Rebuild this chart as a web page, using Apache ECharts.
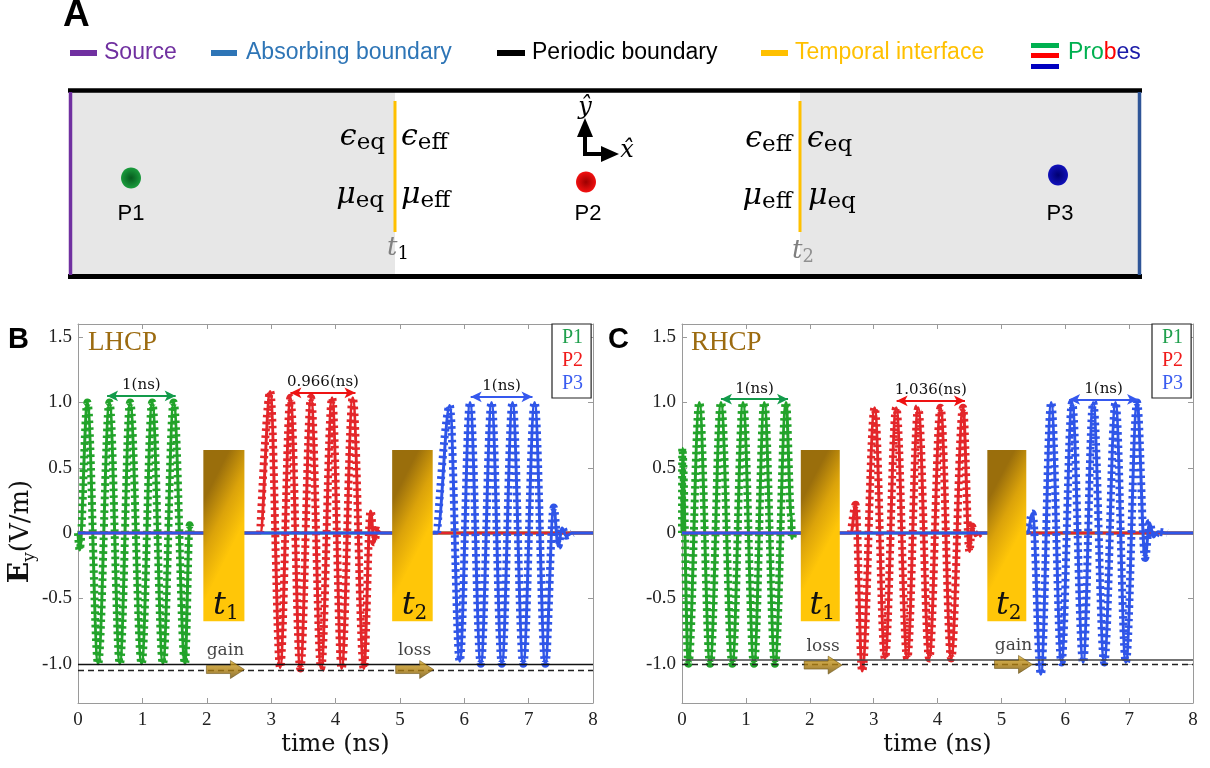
<!DOCTYPE html>
<html><head><meta charset="utf-8">
<script src="https://cdn.jsdelivr.net/npm/echarts@6/dist/echarts.min.js"></script>
<style>html,body{margin:0;padding:0;background:#fff}#c{width:1210px;height:768px}</style>
</head><body><div id="c"></div>
<script>
// ---------- data ----------
const timeTicks = [0, 1, 2, 3, 4, 5, 6, 7, 8];
const fieldTicks = [-1.0, -0.5, 0, 0.5, 1.0, 1.5];
const probeNames = ['P1', 'P2', 'P3'];

// LHCP (panel B) probe signals [time ns, Ey V/m]
const lhcpP1 = [[0,0],[0.025,-0.13],[0.146,1.0],[0.312,-1.0],[0.489,1.0],[0.65,-1.0],[0.81,1.0],[0.988,-1.0],[1.153,1.0],[1.319,-1.0],[1.486,1.0],[1.662,-1.0],[1.735,0.06],[1.75,0]];
const lhcpP2 = [[2.83,0],[2.986,1.084],[3.14,-1.03],[3.30,1.036],[3.453,-1.036],[3.62,1.036],[3.776,-1.036],[3.947,1.036],[4.095,-1.036],[4.268,1.036],[4.44,-1.036],[4.545,0.17],[4.6,-0.07],[4.65,0.02],[4.72,0]];
const lhcpP3 = [[5.58,0],[5.774,0.977],[5.93,-0.98],[6.09,1.0],[6.257,-1.0],[6.424,1.0],[6.584,-1.0],[6.75,1.0],[6.916,-1.0],[7.093,1.0],[7.259,-1.0],[7.39,0.196],[7.46,-0.1],[7.52,0.04],[7.58,-0.02],[7.68,0]];
// RHCP (panel C)
const rhcpP1 = [[0,0],[0.004,0.65],[0.1,-1.0],[0.271,1.0],[0.44,-1.0],[0.61,1.0],[0.788,-1.0],[0.955,1.0],[1.127,-1.0],[1.288,1.0],[1.455,-1.0],[1.628,1.0],[1.71,0.13],[1.72,-0.04],[1.74,0]];
const rhcpP2 = [[2.645,0],[2.718,0.216],[2.82,-1.056],[3.016,0.96],[3.177,-0.96],[3.354,0.96],[3.526,-0.96],[3.698,0.96],[3.87,-0.96],[4.048,0.96],[4.214,-0.96],[4.40,0.96],[4.50,-0.14],[4.54,0.05],[4.59,-0.02],[4.66,0]];
const rhcpP3 = [[5.405,0],[5.488,0.15],[5.618,-1.08],[5.78,1.0],[5.94,-0.99],[6.107,1.0],[6.28,-0.99],[6.437,1.0],[6.61,-0.99],[6.787,1.0],[6.948,-0.99],[7.125,1.0],[7.25,-0.19],[7.32,0.08],[7.38,-0.03],[7.45,0.01],[7.6,0]];

// period annotations [t start, t end, level, text]
const lhcpSpans = [[0.452,1.517,1.05,'1(ns)'],[3.30,4.31,1.073,'0.966(ns)'],[6.10,7.06,1.043,'1(ns)']];
const rhcpSpans = [[0.61,1.66,1.025,'1(ns)'],[3.36,4.43,1.012,'1.036(ns)'],[6.06,7.14,1.023,'1(ns)']];
// temporal interfaces [t start, t end, top, bottom, index]
const lhcpInterfaces = [[1.947,2.585,0.636,-0.675,'1'],[4.88,5.51,0.636,-0.675,'2']];
const rhcpInterfaces = [[1.86,2.47,0.636,-0.675,'1'],[4.78,5.39,0.636,-0.675,'2']];
// gain / loss markers [t, level, text]
const lhcpSteps = [[2.29,-1.044,'gain'],[5.23,-1.044,'loss']];
const rhcpSteps = [[2.21,-1.01,'loss'],[5.19,-1.005,'gain']];
// reference levels [solid, dashed]
const lhcpRefs = [-1.0, -1.046];
const rhcpRefs = [-0.975, -1.0];

// ---------- styles ----------
const waveColors = ['#22a32a', '#e3262a', '#2f55e8'];
const legendColors = ['#1f9f4c', '#f01a1a', '#3a5cf0'];
const spanColors = ['#139b4b', '#ee1313', '#3558ee'];
const serif = 'Liberation Serif';
const dserif = 'DejaVu Serif';
const sans = 'Liberation Sans';

const chart = echarts.init(document.getElementById('c'), null, {renderer: 'canvas'});

function fullTrace(w) {
  const d = w.slice();
  if (d[0][0] > 0) d.unshift([0, 0]);
  if (d[d.length - 1][0] < 8) d.push([8, 0]);
  return d;
}

const axisGray = '#9a9a9a';
function xAxisDef(gi, pos, labels) {
  return {
    type: 'value', gridIndex: gi, position: pos, min: 0, max: 8, interval: 1,
    axisLine: {show: true, onZero: false, lineStyle: {color: axisGray, width: 1}},
    axisTick: {show: true, inside: true, length: 5, lineStyle: {color: axisGray}},
    splitLine: {show: false},
    axisLabel: {show: labels, color: '#222', fontFamily: serif, fontSize: 19, margin: 8,
      customValues: timeTicks, formatter: v => String(v)},
    name: labels ? 'time (ns)' : '', nameLocation: 'middle', nameGap: 30,
    nameTextStyle: {fontFamily: dserif, fontSize: 24, color: '#111'}
  };
}
function yAxisDef(gi, pos, labels, withName) {
  const ax = {
    type: 'value', gridIndex: gi, position: pos, min: -1.3, max: 1.6,
    axisLine: {show: true, onZero: false, lineStyle: {color: axisGray, width: 1}},
    axisTick: {show: true, inside: true, length: 5, lineStyle: {color: axisGray}, customValues: fieldTicks},
    splitLine: {show: false},
    axisLabel: {show: labels, color: '#222', fontFamily: serif, fontSize: 19, margin: 6,
      customValues: fieldTicks, formatter: v => (Math.abs(v) < 1e-9 ? '0' : v.toFixed(1))}
  };
  if (withName) {
    ax.name = '{b|E}{s|y}{n|(V/m)}';
    ax.nameLocation = 'middle';
    ax.nameGap = 30;
    ax.nameTextStyle = {
      color: '#111', padding: [0, 36, 0, 0],
      rich: {
        b: {fontFamily: dserif, fontWeight: 'bold', fontSize: 28, lineHeight: 34},
        s: {fontFamily: dserif, fontSize: 17, lineHeight: 18, verticalAlign: 'bottom'},
        n: {fontFamily: dserif, fontSize: 26, lineHeight: 34}
      }
    };
  }
  return ax;
}

const series = [];
function addPanel(pi, waves, spans, interfaces, steps, refs) {
  const xi = pi * 2, yi = pi * 2;
  waves.forEach((w, k) => {
    const s = {
      type: 'line', name: probeNames[k], xAxisIndex: xi, yAxisIndex: yi,
      data: fullTrace(w), showSymbol: false, symbol: 'none',
      smooth: 0.36, smoothMonotone: 'x', z: 2 + k,
      lineStyle: {color: waveColors[k], width: 3}, itemStyle: {color: waveColors[k]},
      animation: false, silent: true
    };
    if (k === 0) {
      s.markLine = {silent: true, symbol: ['none', 'none'], animation: false, label: {show: false}, data: [
        {yAxis: refs[0], lineStyle: {color: pi === 0 ? '#111' : '#444', width: pi === 0 ? 1.3 : 1.6, type: 'solid'}},
        {yAxis: refs[1], lineStyle: {color: '#222', width: 1.3, type: [6, 4]}}
      ]};
    }
    series.push(s);
    // marker-like texture along the active part of the signal
    series.push({
      type: 'line', name: probeNames[k], xAxisIndex: xi, yAxisIndex: yi,
      data: w, showSymbol: false, symbol: 'none',
      smooth: 0.36, smoothMonotone: 'x', z: 2 + k,
      lineStyle: {color: waveColors[k], width: 8, type: [2.6, 4.2], cap: 'butt'},
      itemStyle: {color: waveColors[k]}, animation: false, silent: true
    });
  });
  // double-headed period arrows
  series.push({
    type: 'line', xAxisIndex: xi, yAxisIndex: yi, data: [], z: 8, silent: true, animation: false,
    markLine: {
      silent: true, animation: false, symbol: ['arrow', 'arrow'], symbolSize: [8, 11],
      data: spans.map((s, k) => [
        {coord: [s[0], s[2]], lineStyle: {color: spanColors[k], width: 2, type: 'solid'},
          label: {show: true, formatter: s[3], position: 'insideMiddleTop', distance: 3,
            color: '#111', fontFamily: dserif, fontSize: 15}},
        {coord: [s[1], s[2]]}
      ])
    }
  });
  // temporal interface blocks
  series.push({
    type: 'custom', xAxisIndex: xi, yAxisIndex: yi, z: 10, silent: true, animation: false,
    data: interfaces, encode: {x: [0, 1], y: [2, 3]},
    renderItem: (params, api) => {
      const p0 = api.coord([api.value(0), api.value(2)]);
      const p1 = api.coord([api.value(1), api.value(3)]);
      const sub = interfaces[params.dataIndex][4];
      return {
        type: 'group', children: [
          {type: 'rect', shape: {x: p0[0], y: p0[1], width: p1[0] - p0[0], height: p1[1] - p0[1]},
            style: {fill: new echarts.graphic.LinearGradient(0, 0.3, 1, 0.42, [
              {offset: 0, color: '#9a6e0c'}, {offset: 0.5, color: '#dba30a'}, {offset: 1, color: '#ffc608'}])}},
          {type: 'text', x: (p0[0] + p1[0]) / 2 + 2, y: p1[1] - 16,
            style: {text: '{t|t}{s|' + sub + '}', align: 'center', verticalAlign: 'middle', fill: '#111',
              rich: {t: {fontFamily: dserif, fontStyle: 'italic', fontSize: 32, lineHeight: 36, fill: '#111'},
                     s: {fontFamily: dserif, fontSize: 20, lineHeight: 20, verticalAlign: 'bottom', fill: '#111'}}}}
        ]
      };
    }
  });
  // gain / loss arrows
  series.push({
    type: 'scatter', xAxisIndex: xi, yAxisIndex: yi, z: 11, silent: true, animation: false,
    data: steps.map(s => ({value: [s[0], s[1]], name: s[2]})),
    symbol: 'path://M0,5 L24,5 L24,0 L38,9 L24,18 L24,13 L0,13 Z', symbolSize: [38, 18],
    itemStyle: {color: new echarts.graphic.LinearGradient(0, 0, 0, 1, [
      {offset: 0, color: '#d9ae30'}, {offset: 0.5, color: '#b08010'}, {offset: 1, color: '#6e5006'}]),
      borderColor: '#5e4405', borderWidth: 0.6},
    label: {show: true, position: 'top', distance: 1, formatter: p => p.name,
      color: '#111', fontFamily: dserif, fontSize: 17}
  });
}
addPanel(0, [lhcpP1, lhcpP2, lhcpP3], lhcpSpans, lhcpInterfaces, lhcpSteps, lhcpRefs);
addPanel(1, [rhcpP1, rhcpP2, rhcpP3], rhcpSpans, rhcpInterfaces, rhcpSteps, rhcpRefs);

// ---------- panel A schematic ----------
const G = [];
function rect(x, y, w, h, fill) { G.push({type: 'rect', shape: {x, y, width: w, height: h}, style: {fill}, silent: true}); }
function line(x1, y1, x2, y2, stroke, lw) { G.push({type: 'line', shape: {x1, y1, x2, y2}, style: {stroke, lineWidth: lw}, silent: true}); }
function text(x, y, t, style) { G.push({type: 'text', x, y, silent: true, style: Object.assign({text: t, verticalAlign: 'middle', align: 'left'}, style)}); }

// legend row
const legSans = {fontFamily: sans, fontSize: 23};
rect(70, 50, 27, 6, '#7030a0'); text(104, 53, 'Source', Object.assign({fill: '#7030a0'}, legSans));
rect(211, 50, 26, 6, '#2e75b6'); text(246, 53, 'Absorbing boundary', Object.assign({fill: '#2e75b6'}, legSans));
rect(497, 50, 28, 6, '#000'); text(532, 53, 'Periodic boundary', Object.assign({fill: '#000'}, legSans));
rect(761, 50, 27, 6, '#ffc000'); text(795, 53, 'Temporal interface', Object.assign({fill: '#ffc000'}, legSans));
rect(1031, 43, 28, 5, '#00b050'); rect(1031, 53, 28, 5, '#ff0000'); rect(1031, 64, 28, 5, '#0000c0');
text(1068, 53, '{g|Pro}{r|b}{b|es}', {rich: {
  g: Object.assign({fill: '#00b050'}, legSans), r: Object.assign({fill: '#ff0000'}, legSans), b: Object.assign({fill: '#1a1aa8'}, legSans)}});

// box
rect(72, 92, 323, 183, '#e7e7e7');
rect(800, 92, 339, 183, '#e7e7e7');
line(68, 90.5, 1142, 90.5, '#000', 4.5);
line(68, 276.5, 1142, 276.5, '#000', 5);
line(70.5, 92, 70.5, 275, '#7030a0', 3.5);
line(1139.5, 92, 1139.5, 275, '#2f5597', 3.5);
line(395, 101, 395, 232, '#ffc000', 3);
line(800, 101, 800, 232, '#ffc000', 3);

function mat(sym, sub) { return '{m|' + sym + '}{s|' + sub + '}'; }
const matRich = {
  m: {fontFamily: dserif, fontStyle: 'italic', fontSize: 30, lineHeight: 36, fill: '#000'},
  s: {fontFamily: dserif, fontSize: 23, lineHeight: 24, verticalAlign: 'bottom', fill: '#000'}
};
text(385, 137, mat('ϵ', 'eq'), {align: 'right', rich: matRich});
text(401, 137, mat('ϵ', 'eff'), {align: 'left', rich: matRich});
text(384, 195, mat('μ', 'eq'), {align: 'right', rich: matRich});
text(401, 195, mat('μ', 'eff'), {align: 'left', rich: matRich});
text(792, 139, mat('ϵ', 'eff'), {align: 'right', rich: matRich});
text(807, 139, mat('ϵ', 'eq'), {align: 'left', rich: matRich});
text(792, 196, mat('μ', 'eff'), {align: 'right', rich: matRich});
text(808, 196, mat('μ', 'eq'), {align: 'left', rich: matRich});

// time interface labels
text(387, 248, '{t|t}{s|1}', {rich: {
  t: {fontFamily: dserif, fontStyle: 'italic', fontSize: 26, lineHeight: 30, fill: '#808080'},
  s: {fontFamily: dserif, fontSize: 18, lineHeight: 18, verticalAlign: 'bottom', fill: '#000'}}});
text(792, 251, '{t|t}{s|2}', {rich: {
  t: {fontFamily: dserif, fontStyle: 'italic', fontSize: 26, lineHeight: 30, fill: '#808080'},
  s: {fontFamily: dserif, fontSize: 18, lineHeight: 18, verticalAlign: 'bottom', fill: '#909090'}}});

// probes
function dot(x, y, c0, c1) {
  G.push({type: 'ellipse', shape: {cx: x, cy: y, rx: 10, ry: 10.5}, silent: true,
    style: {fill: new echarts.graphic.RadialGradient(0.5, 0.5, 0.5, [{offset: 0, color: c0}, {offset: 1, color: c1}])}});
}
dot(131, 178, '#065a1e', '#1a9a3c'); dot(586, 182, '#9c0000', '#f01010'); dot(1058, 175, '#000070', '#1010b8');
text(131, 214, 'P1', {align: 'center', fill: '#000', fontFamily: sans, fontSize: 22});
text(588, 214, 'P2', {align: 'center', fill: '#000', fontFamily: sans, fontSize: 22});
text(1060, 214, 'P3', {align: 'center', fill: '#000', fontFamily: sans, fontSize: 22});

// axes icon
line(585, 156, 585, 132, '#000', 4);
G.push({type: 'polygon', shape: {points: [[577, 137], [593, 137], [585, 118]]}, style: {fill: '#000'}, silent: true});
line(583, 154, 604, 154, '#000', 4);
G.push({type: 'polygon', shape: {points: [[601, 146], [601, 162], [619, 154]]}, style: {fill: '#000'}, silent: true});
text(585, 108, 'ŷ', {align: 'center', fill: '#000', fontFamily: dserif, fontStyle: 'italic', fontSize: 24});
text(627, 151, 'x̂', {align: 'center', fill: '#000', fontFamily: dserif, fontStyle: 'italic', fontSize: 24});

// ---------- option ----------
const legendBase = {
  orient: 'vertical', icon: 'none', itemWidth: 0, itemHeight: 20, itemGap: 3,
  padding: [4, 8, 4, 5], borderColor: '#222', borderWidth: 1.2, backgroundColor: '#fff',
  selectedMode: false, textStyle: {fontFamily: serif, fontSize: 20},
  data: probeNames.map((n, k) => ({name: n, textStyle: {color: legendColors[k]}}))
};

const option = {
  animation: false,
  backgroundColor: '#fff',
  title: [
    {text: 'A', left: 63, top: -3, padding: 0, textStyle: {fontFamily: sans, fontWeight: 'bold', fontSize: 37, color: '#000'}},
    {text: 'B', left: 8, top: 325, padding: 0, textStyle: {fontFamily: sans, fontWeight: 'bold', fontSize: 29, color: '#000'}},
    {text: 'C', left: 608, top: 325, padding: 0, textStyle: {fontFamily: sans, fontWeight: 'bold', fontSize: 29, color: '#000'}},
    {text: 'LHCP', left: 88, top: 329, padding: 0, textStyle: {fontFamily: serif, fontWeight: 'normal', fontSize: 27, color: '#9c6b10'}},
    {text: 'RHCP', left: 691, top: 329, padding: 0, textStyle: {fontFamily: serif, fontWeight: 'normal', fontSize: 27, color: '#9c6b10'}}
  ],
  legend: [
    Object.assign({}, legendBase, {left: 552, top: 324}),
    Object.assign({}, legendBase, {left: 1152, top: 324})
  ],
  grid: [
    {left: 78, top: 324, width: 515, height: 379},
    {left: 682, top: 324, width: 511, height: 379}
  ],
  xAxis: [xAxisDef(0, 'bottom', true), xAxisDef(0, 'top', false), xAxisDef(1, 'bottom', true), xAxisDef(1, 'top', false)],
  yAxis: [yAxisDef(0, 'left', true, true), yAxisDef(0, 'right', false, false), yAxisDef(1, 'left', true, false), yAxisDef(1, 'right', false, false)],
  graphic: G,
  series: series
};
chart.setOption(option);
</script></body></html>
